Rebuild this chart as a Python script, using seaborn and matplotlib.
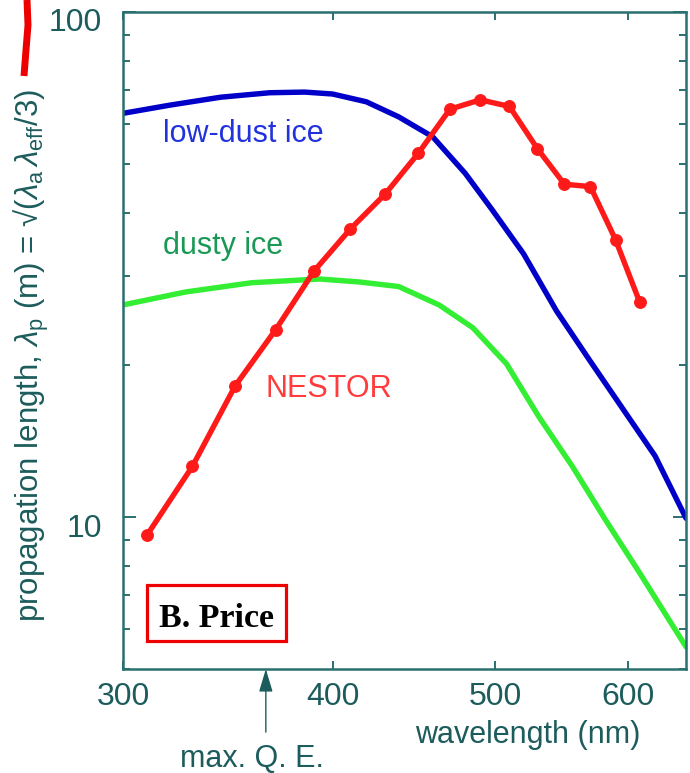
import matplotlib
matplotlib.use("Agg")
import matplotlib.pyplot as plt
import pandas as pd
import seaborn as sns
from matplotlib.ticker import FixedLocator, FixedFormatter, NullLocator, NullFormatter
from matplotlib.transforms import ScaledTranslation
from matplotlib.lines import Line2D
from matplotlib.patches import Rectangle

# Propagation length model for clean (low-dust) South Pole ice
lowdust_wl = [300, 320, 343, 367, 385, 400, 419, 438, 459, 480, 498, 520, 544, 569, 595, 623, 650]
lowdust_len = [63.0, 65.4, 67.8, 69.2, 69.4, 68.8, 66.4, 62.0, 56.6, 47.9, 40.6, 33.2, 25.6, 20.5, 16.5, 13.2, 9.94]

# Propagation length model for dusty ice
dusty_wl = [300, 327, 358, 393, 415, 438, 463, 485, 508, 531, 556, 582, 610, 650]
dusty_len = [26.3, 27.9, 29.1, 29.6, 29.2, 28.6, 26.3, 23.7, 20.1, 15.8, 12.6, 9.86, 7.74, 5.53]

# NESTOR sea-water measurements
nestor_wl = [310, 330, 350, 370, 390, 410, 430, 450, 470, 490, 510, 530, 550, 570, 590, 610]
nestor_len = [9.2, 12.6, 18.2, 23.5, 30.7, 37.2, 43.6, 52.5, 64.2, 67.0, 65.0, 53.6, 45.6, 45.1, 35.4, 26.6]

x_ticks = [300, 400, 500, 600]
x_tick_labels = ["300", "400", "500", "600"]
y_ticks = [10, 100]
y_tick_labels = ["10", "100"]
y_minor = [5, 6, 7, 8, 9, 20, 30, 40, 50, 60, 70, 80, 90]
max_qe_wl = 365

TEAL = "#1d5c5c"
SPINE = "#2a7070"
BLUE = "#0000c8"
GREEN = "#33ee33"
RED = "#ff1a1a"

sns.set_style("ticks")
plt.rcParams["font.family"] = ["Liberation Sans", "DejaVu Sans"]
plt.rcParams["mathtext.fontset"] = "custom"
plt.rcParams["mathtext.rm"] = "Liberation Sans"
plt.rcParams["mathtext.it"] = "Liberation Sans:italic"
plt.rcParams["mathtext.bf"] = "Liberation Sans:bold"

fig = plt.figure(figsize=(6.9, 7.73), dpi=100)
fig.patch.set_facecolor("white")
ax = fig.add_axes([0.1783, 0.1345, 0.816, 0.85])
ax.set_xscale("log")
ax.set_yscale("log")

low_df = pd.DataFrame({"wl": lowdust_wl, "len": lowdust_len})
dusty_df = pd.DataFrame({"wl": dusty_wl, "len": dusty_len})
nestor_df = pd.DataFrame({"wl": nestor_wl, "len": nestor_len})

sns.lineplot(data=low_df, x="wl", y="len", ax=ax, color=BLUE, lw=3.9,
             sort=False, estimator=None)
sns.lineplot(data=dusty_df, x="wl", y="len", ax=ax, color=GREEN, lw=3.9,
             sort=False, estimator=None)
sns.lineplot(data=nestor_df, x="wl", y="len", ax=ax, color=RED, lw=3.9,
             marker="o", markersize=8.5, markeredgecolor=RED, markerfacecolor=RED,
             sort=False, estimator=None)

ax.set_xlim(300, 650)
ax.set_ylim(5, 100)

ax.xaxis.set_major_locator(FixedLocator(x_ticks))
ax.xaxis.set_major_formatter(FixedFormatter(x_tick_labels))
ax.xaxis.set_minor_locator(NullLocator())
ax.yaxis.set_major_locator(FixedLocator(y_ticks))
ax.yaxis.set_major_formatter(FixedFormatter(y_tick_labels))
ax.yaxis.set_minor_locator(FixedLocator(y_minor))
ax.yaxis.set_minor_formatter(NullFormatter())

for side in ["left", "right", "top", "bottom"]:
    ax.spines[side].set_visible(True)
    ax.spines[side].set_color(SPINE)
    ax.spines[side].set_linewidth(1.8)

ax.tick_params(axis="x", which="major", direction="in", top=True, bottom=True,
               length=6, width=1.4, color=SPINE, labelsize=23,
               labelcolor=TEAL, pad=9)
ax.tick_params(axis="y", which="major", direction="in", left=True, right=True,
               length=9.5, width=1.4, color=SPINE, labelsize=23,
               labelcolor=TEAL, pad=15)
ax.tick_params(axis="y", which="minor", direction="in", left=True, right=True,
               length=5, width=1.4, color=SPINE)

ax.set_xlabel("wavelength (nm)", fontsize=22, color=TEAL, va="baseline")
ax.xaxis.set_label_coords(0.7185, -0.1126)
ax.set_ylabel("propagation length, $\\lambda_{\\mathrm{p}}$ (m) = \u221a($\\lambda_{\\mathrm{a}}\\,\\lambda_{\\mathrm{eff}}$/3)",
              fontsize=22.5, color=TEAL, va="center")
ax.yaxis.set_label_coords(-0.163, 0.478)

# curve labels
ax.text(317, 55.4, "low-dust ice", color="#2233dd", fontsize=22, va="baseline", ha="left")
ax.text(317, 33.2, "dusty ice", color="#1a9955", fontsize=22, va="baseline", ha="left")
ax.text(365, 17.3, "NESTOR", color="#ff3b3b", fontsize=22, va="baseline", ha="left")

# wavelength of maximum quantum efficiency
ax.annotate("", xy=(max_qe_wl, 0), xycoords=("data", "axes fraction"),
            xytext=(max_qe_wl, -0.096), textcoords=("data", "axes fraction"),
            arrowprops=dict(arrowstyle="-|>,head_length=1.0,head_width=0.3",
                            color=TEAL, lw=1.0, mutation_scale=14,
                            shrinkA=0, shrinkB=0),
            annotation_clip=False)
ax.text(358, -0.137, "max. Q. E.", transform=ax.get_xaxis_transform(),
        fontsize=22, color=TEAL, ha="center", va="center", clip_on=False)

# credit box
W, H = 690.0, 773.0
fig.add_artist(Rectangle((147 / W, 1 - 641 / H), 139 / W, 56 / H,
                         transform=fig.transFigure, facecolor="white",
                         edgecolor="#ee0000", linewidth=2.3, zorder=5))
fig.text(216.5 / W, 1 - 627 / H, "B. Price", fontsize=24.5, fontweight="bold",
         family=["Liberation Serif", "DejaVu Serif"], color="black",
         ha="center", va="baseline", zorder=6)

# red pen stroke in the upper-left margin
fig.add_artist(Line2D([27 / W, 28 / W, 26 / W, 24 / W],
                      [1.0, 1 - 25 / H, 1 - 50 / H, 1 - 76 / H],
                      transform=fig.transFigure, color="#ee0000", lw=5,
                      solid_capstyle="butt"))

# y tick labels sit a little below their ticks
offset = ScaledTranslation(0, -8 / 100, fig.dpi_scale_trans)
for tick in ax.yaxis.get_major_ticks():
    tick.label1.set_transform(tick.label1.get_transform() + offset)

fig.savefig("out.png", dpi=100, facecolor="white")
